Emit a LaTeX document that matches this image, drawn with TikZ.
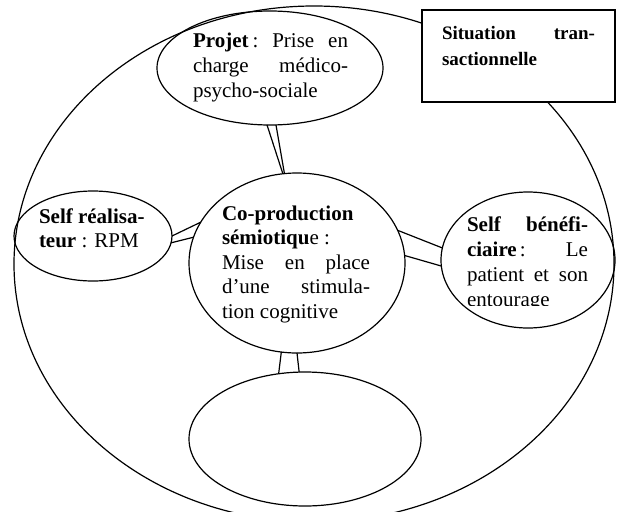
\documentclass[tikz,border=0pt]{standalone}
\usepackage{fontspec}
\setmainfont{Liberation Serif}
\usetikzlibrary{shapes.geometric}
\newcommand\txtA{\fontsize{21}{24.5}\selectfont}
\newcommand\txtB{\fontsize{19}{24}\selectfont}
\begin{document}
\begin{tikzpicture}[x=1pt,y=-1pt,
  ell/.style={draw, ellipse, line width=1.2pt, inner sep=0pt, outer sep=0pt},
  conn/.style={draw, line width=1.2pt},
  txt/.style={anchor=base west, inner sep=0pt, outer sep=0pt, font=\txtA},
  boxtxt/.style={anchor=base west, inner sep=0pt, outer sep=0pt, font=\txtB}]
\useasboundingbox (0,0) rectangle (617,511);
\clip (0,0) rectangle (617,511);
\fill[white] (0,0) rectangle (617,511);

% main ellipse
\node[ell, minimum width=600pt, minimum height=516pt] (big) at (314,264) {};

% box
\node[draw, fill=white, line width=1.2pt, rectangle, inner sep=0pt,
      minimum width=193pt, minimum height=92pt] (sit) at (518.5,56) {};
\node[boxtxt] (s1) at (442,39) {\makebox[153pt][s]{\textbf{Situation tran-}}};
\node[boxtxt] (s2) at (442,65) {\textbf{sactionnelle}};

% ellipses
\node[ell, minimum width=226pt, minimum height=114pt] (proj) at (270,68) {};
\node[ell, minimum width=216pt, minimum height=180pt] (cen) at (297,263) {};
\node[ell, minimum width=158pt, minimum height=90pt] (selfr) at (93,236) {};
\node[ell, minimum width=174pt, minimum height=136pt] (selfb) at (528,260) {};
\node[ell, minimum width=232pt, minimum height=134pt] (bot) at (305,439) {};

% double connectors
\draw[conn] (proj.267) -- (cen.99.5);
\draw[conn] (proj.276) -- (cen.98);
\draw[conn] (selfr.0.7) -- (cen.157.8);
\draw[conn] (selfr.-5.2) -- (cen.166.4);
\draw[conn] (cen.18.1) -- (selfb.172.1);
\draw[conn] (cen.4.9) -- (selfb.184.6);
\draw[conn] (cen.260.4) -- (bot.112.6);
\draw[conn] (cen.270) -- (bot.95.1);

% Projet text
\node[txt] (p1) at (193,48) {\hbox to 155pt{\textbf{Projet}\hspace{4pt}:\hfill Prise\hfill en}};
\node[txt] (p2) at (193,72.5) {\makebox[155pt][s]{charge médico-}};
\node[txt] (p3) at (193,97) {psycho-sociale};

% centre text
\node[txt] (c1) at (222,220) {\textbf{Co-production}};
\node[txt] (c2) at (222,244.5) {\textbf{sémiotiqu}e :};
\node[txt] (c3) at (222,269) {\makebox[148pt][s]{Mise en place}};
\node[txt] (c4) at (222,293.5) {\makebox[148pt][s]{d’une stimula-}};
\node[txt] (c5) at (222,318) {tion cognitive};

% Self réalisateur
\node[txt] (r1) at (39,223) {\textbf{Self réalisa-}};
\node[txt] (r2) at (39,247) {\textbf{teur} : RPM};

% Self bénéficiaire
\node[txt] (b1) at (467,231.5) {\makebox[121pt][s]{\textbf{Self bénéfi-}}};
\node[txt] (b2) at (467,256.5) {\hbox to 121pt{\textbf{ciaire}\hspace{3pt}:\hfill Le}};
\node[txt] (b3) at (467,281.5) {\makebox[121pt][s]{patient et son}};
\begin{scope}
\clip (440,285) rectangle (617,305.5);
\node[txt] (b4) at (467,306.5) {entourage};
\end{scope}
\end{tikzpicture}
\end{document}
